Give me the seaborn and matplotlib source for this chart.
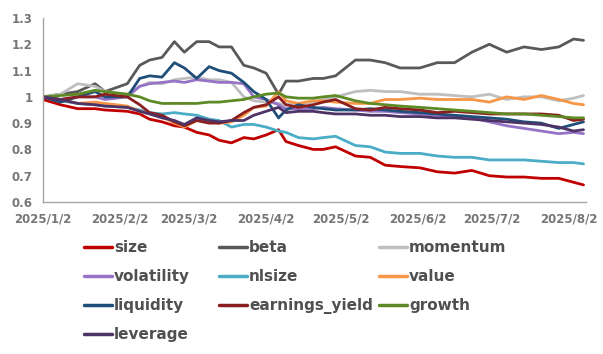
import pandas as pd
import matplotlib
matplotlib.use("Agg")
import matplotlib.pyplot as plt
import seaborn as sns

# sample dates (every week)
dates = ["2025-01-02", "2025-01-09", "2025-01-16", "2025-01-23", "2025-01-27",
         "2025-02-05", "2025-02-10", "2025-02-14", "2025-02-19", "2025-02-24",
         "2025-02-28", "2025-03-05", "2025-03-10", "2025-03-14", "2025-03-19",
         "2025-03-24", "2025-03-28", "2025-04-02", "2025-04-07", "2025-04-10",
         "2025-04-15", "2025-04-21", "2025-04-25", "2025-04-30", "2025-05-08",
         "2025-05-14", "2025-05-20", "2025-05-26", "2025-06-03", "2025-06-10",
         "2025-06-17", "2025-06-24", "2025-07-01", "2025-07-08", "2025-07-15",
         "2025-07-22", "2025-07-29", "2025-08-04", "2025-08-08"]

size = [0.99, 0.97, 0.955, 0.955, 0.95, 0.945, 0.935, 0.915, 0.905, 0.89,
        0.885, 0.865, 0.855, 0.835, 0.825, 0.845, 0.84, 0.855, 0.875, 0.83,
        0.815, 0.80, 0.80, 0.81, 0.775, 0.77, 0.74, 0.735, 0.73, 0.715,
        0.71, 0.72, 0.70, 0.695, 0.695, 0.69, 0.69, 0.675, 0.665]
beta = [1.00, 1.01, 1.02, 1.05, 1.02, 1.05, 1.12, 1.14, 1.15, 1.21,
        1.17, 1.21, 1.21, 1.19, 1.19, 1.12, 1.11, 1.09, 1.01, 1.06,
        1.06, 1.07, 1.07, 1.08, 1.14, 1.14, 1.13, 1.11, 1.11, 1.13,
        1.13, 1.17, 1.20, 1.17, 1.19, 1.18, 1.19, 1.22, 1.215]
momentum = [1.00, 1.01, 1.05, 1.04, 1.02, 1.01, 1.04, 1.055, 1.05, 1.065,
            1.07, 1.075, 1.065, 1.065, 1.055, 1.00, 0.985, 0.98, 0.975, 0.97,
            0.975, 0.98, 0.99, 1.00, 1.02, 1.025, 1.02, 1.02, 1.01, 1.01,
            1.005, 1.00, 1.01, 0.99, 1.00, 1.00, 0.985, 0.995, 1.005]
volatility = [1.00, 0.99, 1.00, 1.00, 0.99, 1.00, 1.04, 1.05, 1.055, 1.06,
              1.055, 1.065, 1.06, 1.055, 1.055, 1.05, 1.00, 0.99, 0.97, 0.955,
              0.955, 0.955, 0.96, 0.955, 0.95, 0.945, 0.945, 0.94, 0.935, 0.93,
              0.925, 0.92, 0.905, 0.89, 0.88, 0.87, 0.86, 0.865, 0.86]
nlsize = [1.00, 0.985, 0.975, 0.97, 0.965, 0.96, 0.95, 0.94, 0.935, 0.94,
          0.935, 0.93, 0.915, 0.91, 0.885, 0.895, 0.895, 0.885, 0.87, 0.865,
          0.845, 0.84, 0.845, 0.85, 0.815, 0.81, 0.79, 0.785, 0.785, 0.775,
          0.77, 0.77, 0.76, 0.76, 0.76, 0.755, 0.75, 0.75, 0.745]
value = [1.00, 0.99, 0.975, 0.98, 0.975, 0.965, 0.945, 0.935, 0.925, 0.90,
         0.885, 0.91, 0.905, 0.90, 0.905, 0.93, 0.96, 0.965, 1.02, 0.985,
         0.975, 0.985, 0.985, 0.98, 0.975, 0.975, 0.99, 0.99, 0.995, 0.99,
         0.99, 0.99, 0.98, 1.00, 0.99, 1.005, 0.99, 0.975, 0.97]
liquidity = [1.00, 0.98, 1.00, 1.02, 1.00, 1.00, 1.07, 1.08, 1.075, 1.13,
             1.11, 1.07, 1.115, 1.10, 1.09, 1.055, 1.02, 0.99, 0.92, 0.95,
             0.97, 0.96, 0.955, 0.95, 0.95, 0.955, 0.95, 0.945, 0.94, 0.935,
             0.93, 0.925, 0.92, 0.915, 0.905, 0.90, 0.88, 0.895, 0.905]
earnings_yield = [1.00, 0.99, 1.00, 1.00, 1.01, 1.00, 0.97, 0.94, 0.93, 0.905,
                  0.89, 0.91, 0.90, 0.90, 0.91, 0.94, 0.96, 0.97, 1.00, 0.97,
                  0.96, 0.97, 0.98, 0.99, 0.955, 0.95, 0.96, 0.955, 0.95, 0.94,
                  0.945, 0.94, 0.935, 0.935, 0.935, 0.935, 0.93, 0.91, 0.915]
growth = [1.00, 1.005, 1.01, 1.025, 1.02, 1.01, 1.00, 0.985, 0.975, 0.975,
          0.975, 0.975, 0.98, 0.98, 0.985, 0.99, 1.00, 1.01, 1.015, 1.00,
          0.995, 0.995, 1.00, 1.005, 0.985, 0.975, 0.97, 0.965, 0.96, 0.955,
          0.95, 0.945, 0.94, 0.935, 0.935, 0.93, 0.925, 0.92, 0.92]
leverage = [1.00, 0.99, 0.975, 0.97, 0.965, 0.96, 0.945, 0.935, 0.92, 0.91,
            0.895, 0.92, 0.91, 0.905, 0.91, 0.91, 0.93, 0.945, 0.96, 0.94,
            0.945, 0.945, 0.94, 0.935, 0.935, 0.93, 0.93, 0.925, 0.925, 0.92,
            0.92, 0.915, 0.91, 0.905, 0.90, 0.895, 0.885, 0.87, 0.875]

factors = ["size", "beta", "momentum", "volatility", "nlsize", "value",
           "liquidity", "earnings_yield", "growth", "leverage"]
series = [size, beta, momentum, volatility, nlsize, value,
          liquidity, earnings_yield, growth, leverage]
colors = ["#C00000", "#595959", "#BFBFBF", "#9673C6", "#4BACC6", "#F79646",
          "#1F4E79", "#8B1E1E", "#5E8A26", "#4E3366"]

tick_dates = ["2025-01-02", "2025-02-02", "2025-03-02", "2025-04-02",
              "2025-05-02", "2025-06-02", "2025-07-02", "2025-08-02"]
tick_labels = ["2025/1/2", "2025/2/2", "2025/3/2", "2025/4/2",
               "2025/5/2", "2025/6/2", "2025/7/2", "2025/8/2"]
y_ticks = [0.6, 0.7, 0.8, 0.9, 1.0, 1.1, 1.2, 1.3]
y_labels = ["0.6", "0.7", "0.8", "0.9", "1", "1.1", "1.2", "1.3"]

# legend columns as in the reference
legend_cols = [["size", "volatility", "liquidity", "leverage"],
               ["beta", "nlsize", "earnings_yield"],
               ["momentum", "value", "growth"]]
legend_x = [84, 219, 379]

df = pd.DataFrame({"date": pd.to_datetime(dates)})
for name, vals in zip(factors, series):
    df[name] = vals
df_long = df.melt(id_vars="date", var_name="factor", value_name="nav")

sns.set_style("white")
plt.rcParams["font.family"] = ["DejaVu Sans"]

fig = plt.figure(figsize=(6.03, 3.54), dpi=100)
ax = fig.add_axes([43 / 603, 1 - 202 / 354, (586 - 43) / 603, (202 - 18) / 354])

col_of = dict(zip(factors, colors))
sns.lineplot(data=df_long, x="date", y="nav", hue="factor", hue_order=factors,
             palette=col_of, linewidth=2.0, ax=ax, legend=False)

ax.set_xlim(pd.Timestamp("2025-01-02"), pd.Timestamp("2025-08-09"))
ax.set_ylim(0.6, 1.3)
ax.set_xticks(pd.to_datetime(tick_dates))
ax.set_xticklabels(tick_labels)
ax.set_yticks(y_ticks)
ax.set_yticklabels(y_labels)
ax.set_xlabel("")
ax.set_ylabel("")

for s in ["top", "right"]:
    ax.spines[s].set_visible(False)
for s in ["left", "bottom"]:
    ax.spines[s].set_color("#A6A6A6")
    ax.spines[s].set_linewidth(1.0)
ax.tick_params(axis="both", colors="#A6A6A6", length=4, width=1,
               labelcolor="#767676", labelsize=8.5)
for lab in ax.get_xticklabels() + ax.get_yticklabels():
    lab.set_fontweight("bold")

# one legend per column, placed like the reference
for names, x0 in zip(legend_cols, legend_x):
    handles = [plt.Line2D([], [], color=col_of[n], linewidth=2.5) for n in names]
    fig.legend(handles, names, loc="upper left",
               bbox_to_anchor=(x0 / 603, 1 - 240 / 354),
               frameon=False, handlelength=1.85, handletextpad=0.12,
               labelspacing=0.92, borderpad=0.0, borderaxespad=0.0,
               prop={"size": 11, "weight": "bold"}, labelcolor="#505050")

fig.savefig("out.png", dpi=100)
